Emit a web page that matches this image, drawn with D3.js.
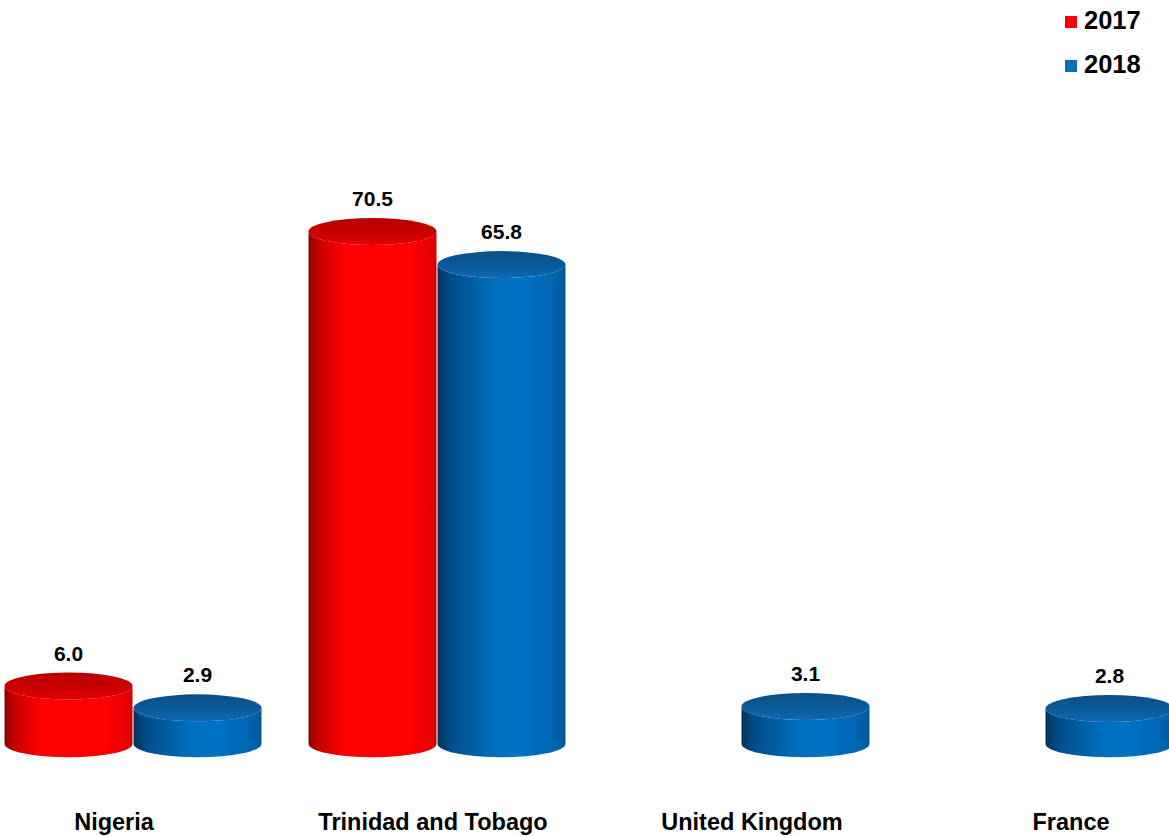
<!DOCTYPE html>
<html>
<head>
<meta charset="utf-8">
<script src="https://cdn.jsdelivr.net/npm/d3@7"></script>
<style>
  html, body { margin: 0; padding: 0; background: #ffffff; }
  svg { display: block; font-family: "Liberation Sans", Arial, sans-serif; }
</style>
</head>
<body>
<svg id="chart" width="1169" height="837"></svg>
<script>
const categories = ["Nigeria", "Trinidad and Tobago", "United Kingdom", "France"];
const seriesNames = ["2017", "2018"];
const values2017 = [6.0, 70.5, null, null];
const values2018 = [2.9, 65.8, 3.1, 2.8];
const valueLabels2017 = ["6.0", "70.5", null, null];
const valueLabels2018 = ["2.9", "65.8", "3.1", "2.8"];

const svg = d3.select("#chart");
const defs = svg.append("defs");

// colour definitions
const sideStops = {
  "2017": [[0, "#8a0000"], [0.07, "#c20000"], [0.28, "#ff0000"], [0.78, "#ff0000"], [0.95, "#e80000"], [1, "#d20000"]],
  "2018": [[0, "#00315a"], [0.1, "#004d88"], [0.45, "#006fbe"], [0.62, "#0073c6"], [0.9, "#0066b2"], [1, "#005896"]]
};
const topStops = {
  "2017": [[0, "#b80000"], [0.6, "#cc0000"], [1, "#e40000"]],
  "2018": [[0, "#0a4f86"], [0.6, "#0b5c9e"], [1, "#1068b0"]]
};
const legendColor = { "2017": "#ff0000", "2018": "#0070c0" };

seriesNames.forEach(s => {
  const g1 = defs.append("linearGradient").attr("id", "side" + s)
    .attr("x1", 0).attr("x2", 1).attr("y1", 0).attr("y2", 0);
  sideStops[s].forEach(st => g1.append("stop").attr("offset", st[0]).attr("stop-color", st[1]));
  const g2 = defs.append("linearGradient").attr("id", "top" + s)
    .attr("x1", 0).attr("x2", 0).attr("y1", 0).attr("y2", 1);
  topStops[s].forEach(st => g2.append("stop").attr("offset", st[0]).attr("stop-color", st[1]));
});

// scales
const x0 = d3.scaleBand().domain(categories).range([-19, -19 + 304 * 4]).padding(0);
const x1 = d3.scaleBand().domain(seriesNames).range([x0.bandwidth() / 2 - 129, x0.bandwidth() / 2 + 129]).padding(0);
const y = d3.scaleLinear().domain([0, 70.5]).range([728.3, 231.5]);
const labelX = d3.scalePoint().domain(categories).range([114, 1071]);

const rx = 64, ry = 13.5, baseDrop = 15.5;

const data = [];
categories.forEach((c, i) => {
  [[values2017, valueLabels2017, "2017"], [values2018, valueLabels2018, "2018"]].forEach(([vals, labs, s]) => {
    if (vals[i] != null) data.push({ cat: c, series: s, value: vals[i], label: labs[i] });
  });
});

const bars = svg.append("g").selectAll("g.cyl").data(data).join("g").attr("class", "cyl");

bars.each(function (d) {
  const g = d3.select(this);
  const cx = x0(d.cat) + x1(d.series) + x1.bandwidth() / 2;
  const yt = y(d.value);
  const yb = y(0) + baseDrop;
  const side = `M${cx - rx},${yt} L${cx - rx},${yb} A${rx},${ry} 0 0 0 ${cx + rx},${yb} L${cx + rx},${yt} A${rx},${ry} 0 0 1 ${cx - rx},${yt} Z`;
  g.append("path").attr("d", side).attr("fill", `url(#side${d.series})`);
  g.append("ellipse").attr("cx", cx).attr("cy", yt).attr("rx", rx).attr("ry", ry)
    .attr("fill", `url(#top${d.series})`);
  g.append("text")
    .attr("x", cx)
    .attr("y", yt - ry - 12)
    .attr("text-anchor", "middle")
    .attr("font-size", 21)
    .attr("font-weight", "bold")
    .attr("fill", "#000")
    .text(d.label);
});

// category labels
svg.append("g").selectAll("text").data(categories).join("text")
  .attr("x", d => labelX(d))
  .attr("y", 830)
  .attr("text-anchor", "middle")
  .attr("font-size", 23.5)
  .attr("font-weight", "bold")
  .attr("fill", "#000")
  .text(d => d);

// legend
const legend = svg.append("g").selectAll("g").data(seriesNames).join("g")
  .attr("transform", (d, i) => `translate(1065, ${16 + i * 44})`);
legend.append("rect").attr("width", 12).attr("height", 12).attr("fill", d => legendColor[d]);
legend.append("text").attr("x", 19).attr("y", 13)
  .attr("font-size", 25.5).attr("font-weight", "bold").attr("fill", "#000")
  .text(d => d);
</script>
</body>
</html>
